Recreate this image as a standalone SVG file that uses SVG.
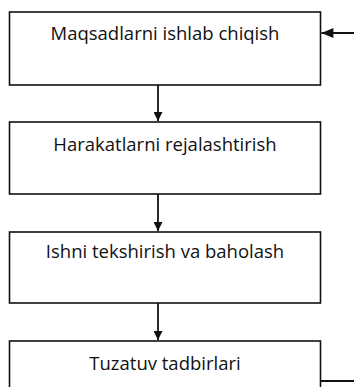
<svg xmlns="http://www.w3.org/2000/svg" width="354" height="387" viewBox="0 0 354 387">
<style>
.box{fill:#ffffff;stroke:#111111;stroke-width:1.6}
.lbl{font-family:"Open Sans","Liberation Sans",sans-serif;font-size:18.5px;fill:#111111;text-anchor:middle}
.conn{fill:none;stroke:#111111;stroke-width:1.8}
</style>
<defs>
<marker id="ah" viewBox="0 0 10 10" refX="10" refY="5" markerWidth="5" markerHeight="5" markerUnits="strokeWidth" orient="auto">
<path d="M0,0 L10,5 L0,10 Z" fill="#111111"/>
</marker>
<marker id="ahb" viewBox="0 0 12 10" refX="12" refY="5" markerWidth="7" markerHeight="5.5" markerUnits="strokeWidth" orient="auto">
<path d="M0,0 L12,5 L0,10 Z" fill="#111111"/>
</marker>
</defs>
<rect width="354" height="387" fill="#ffffff"/>
<g id="n1"><rect class="box" x="9.5" y="12" width="311" height="73"/><text class="lbl" x="165" y="40">Maqsadlarni ishlab chiqish</text></g>
<g id="n2"><rect class="box" x="9.5" y="122" width="311" height="72"/><text class="lbl" x="165" y="150.5">Harakatlarni rejalashtirish</text></g>
<g id="n3"><rect class="box" x="9.5" y="232" width="311" height="71"/><text class="lbl" x="165" y="258">Ishni tekshirish va baholash</text></g>
<g id="n4"><rect class="box" x="9.5" y="341" width="311" height="60"/><text class="lbl" x="165" y="369.5">Tuzatuv tadbirlari</text></g>
<g id="connectors">
<line class="conn" x1="158" y1="85" x2="158" y2="121" marker-end="url(#ah)"/>
<line class="conn" x1="158" y1="194" x2="158" y2="231" marker-end="url(#ah)"/>
<line class="conn" x1="158" y1="303" x2="158" y2="340" marker-end="url(#ah)"/>
<line class="conn" x1="321" y1="381" x2="354" y2="381"/>
<line class="conn" x1="354" y1="33" x2="321.5" y2="33" marker-end="url(#ahb)"/>
</g>
</svg>
